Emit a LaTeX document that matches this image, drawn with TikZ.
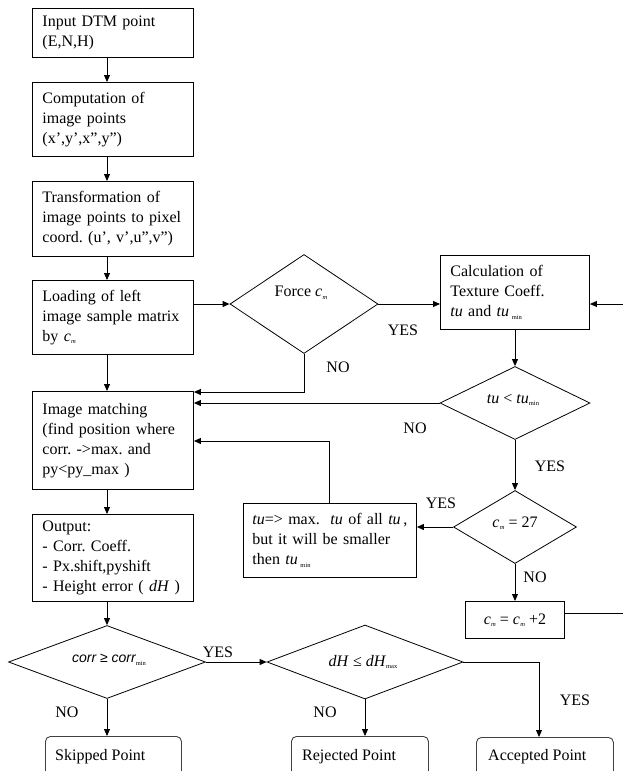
\documentclass[tikz,border=0pt]{standalone}
\usepackage{fontspec}
\setmainfont{Liberation Serif}
\newfontfamily\sansfam{Liberation Sans}
\usetikzlibrary{shapes.geometric,arrows.meta}
\newcommand{\sbs}[1]{\raisebox{-2.5pt}{\fontsize{6.5}{7}\selectfont #1}}
\newcommand{\cmv}{\textit{c}\kern0.3pt\sbs{\textit{m}}}
\newcommand{\tuv}{\textit{tu}}
\frenchspacing
\begin{document}
\begin{tikzpicture}[x=1pt,y=-1pt,
  every node/.style={font=\fontsize{16}{20}\selectfont},
  proc/.style={draw, line width=0.9pt, anchor=north west, inner xsep=10pt, inner ysep=0pt, align=left},
  eqbox/.style={draw, line width=0.9pt, anchor=north west, inner sep=0pt, align=center},
  dec/.style={draw, diamond, line width=0.8pt, inner sep=0pt},
  term/.style={draw=black!75, rounded corners=5pt, line width=0.9pt, anchor=north west, inner sep=0pt},
  lbl/.style={inner sep=0pt},
  arr/.style={line width=0.9pt, -{Triangle[length=7pt,width=6pt]}},
  ln/.style={line width=0.9pt}]
\useasboundingbox (0,0) rectangle (622,771);

% column coordinate
\coordinate (cx) at (107,0);

% process boxes, left column
\node[proc, text width=141pt, minimum height=49pt] (b1) at (32,8) {Input DTM point\\(E,N,H)};
\node[proc, text width=141pt, minimum height=74pt] (b2) at (32,82) {Computation of\\image points\\(x',y',x'',y'')};
\node[proc, text width=141pt, minimum height=75pt] (b3) at (32,181) {Transformation of\\image points to pixel\\coord. (u', v',u'',v'')};
\node[proc, text width=141pt, minimum height=74pt] (b4) at (32,280) {Loading of left\\image sample matrix\\by \cmv};
\node[proc, text width=141pt, minimum height=98pt] (b5) at (32,391) {Image matching\\(find position where\\corr. ->max. and\\py<py\_max )};
\node[proc, text width=141pt, minimum height=87pt] (b6) at (32,514) {Output:\\- Corr. Coeff.\\- Px.shift,pyshift\\- Height error ( \textit{dH} )};

% right side boxes
\node[proc, text width=129pt, minimum height=74pt] (calc) at (440,255) {Calculation of\\Texture Coeff.\\\tuv{} and \tuv\,\sbs{min}};
\node[proc, inner xsep=9pt, text width=155pt, minimum height=74pt] (tubox) at (243,503) {\mbox{\tuv=> max.\ \ \tuv{} of all \tuv\,,}\\but it will be smaller\\then \tuv\,\sbs{min}};
\node[eqbox, minimum width=99pt, minimum height=37pt] (cmbox) at (465,601) {\cmv{} = \cmv{} +2};

% decisions
\node[dec, minimum width=148pt, minimum height=99pt] (force) at (304,304) {};
\node[dec, minimum width=150pt, minimum height=73pt] (tud) at (515,403) {};
\node[dec, minimum width=123pt, minimum height=73pt] (cmd) at (515,527) {};
\node[dec, minimum width=197pt, minimum height=73pt] (corr) at (107,662) {};
\node[dec, minimum width=196pt, minimum height=74pt] (dh) at (365,662) {};

\node[lbl] (tforce) at (301,293) {Force \cmv};
\node[lbl] (ttud) at (513,400) {\tuv{} < \tuv\sbs{min}};
\node[lbl] (tcmd) at (515,523) {\cmv{} = 27};
\node[lbl] (tcorr) at (109,660) {{\sansfam\itshape\fontsize{14}{16}\selectfont corr ≥ corr}\sbs{min}};
\node[lbl] (tdh) at (363,662) {\textit{dH} ≤ \textit{dH}\sbs{max}};

% terminals
\node[term, minimum width=136pt, minimum height=60pt] (skip) at (45,736) {};
\node[term, minimum width=137pt, minimum height=60pt] (rej) at (291,736) {};
\node[term, minimum width=137pt, minimum height=60pt] (acc) at (476,737) {};
\node[lbl, anchor=base west] (tskip) at (55,760) {Skipped Point};
\node[lbl, anchor=base west] (trej) at (302,760) {Rejected Point};
\node[lbl, anchor=base west] (tacc) at (488,760) {Accepted Point};

% branch labels
\node[lbl] (y1) at (403,330) {YES};
\node[lbl] (n1) at (338,367) {NO};
\node[lbl] (n2) at (415,428) {NO};
\node[lbl] (y2) at (550,466) {YES};
\node[lbl] (y3) at (441,503) {YES};
\node[lbl] (n3) at (535,577) {NO};
\node[lbl] (y4) at (218,652) {YES};
\node[lbl] (n4) at (67,712) {NO};
\node[lbl] (n5) at (325,712) {NO};
\node[lbl] (y5) at (575,700) {YES};

% helper coordinates
\coordinate (j1) at (304,392);
\coordinate (fb) at (329,441);
\coordinate (rx) at (640,0);
\coordinate (ax) at (539,0);

% connectors
\draw[arr] (b1.south -| cx) -- (b2.north -| cx);
\draw[arr] (b2.south -| cx) -- (b3.north -| cx);
\draw[arr] (b3.south -| cx) -- (b4.north -| cx);
\draw[arr] (force.west -| b4.east) -- (force.west);
\draw[arr] (force.east) -- (force.east -| calc.west);
\draw[arr] (force.south) -- (j1) -- (j1 -| b5.east);
\draw[arr] (b4.south -| cx) -- (b5.north -| cx);
\draw[arr] (calc.south -| tud.north) -- (tud.north);
\draw[arr] (tud.west) -- (tud.west -| b5.east);
\draw[arr] (tud.south) -- (cmd.north);
\draw[arr] (cmd.west) -- (cmd.west -| tubox.east);
\draw[arr] (tubox.north -| fb) -- (fb) -- (fb -| b5.east);
\draw[arr] (cmd.south) -- (cmbox.north -| cmd.south);
\draw[arr] ([yshift=6.5pt]cmbox.east) -| (rx |- force.east) -- (force.east -| calc.east);
\draw[arr] (b5.south -| cx) -- (b6.north -| cx);
\draw[arr] (b6.south -| cx) -- (corr.north);
\draw[arr] (corr.east) -- (dh.west);
\draw[arr] (corr.south) -- (skip.north -| corr.south);
\draw[arr] (dh.south) -- (rej.north -| dh.south);
\draw[arr] (dh.east) -| (acc.north -| ax);
\end{tikzpicture}
\end{document}
